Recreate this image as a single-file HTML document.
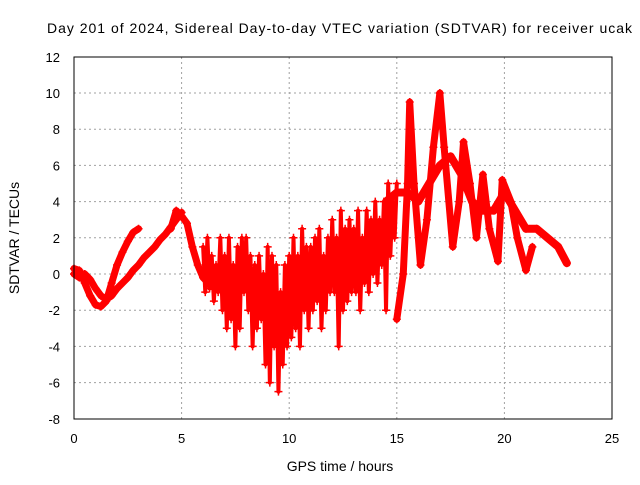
<!DOCTYPE html>
<html><head><meta charset="utf-8"><style>
body{margin:0;background:#fff}
svg text{font-family:"Liberation Sans",Arial,sans-serif;fill:#000}
</style></head><body>
<svg id="chart" width="640" height="480" viewBox="0 0 640 480" xmlns="http://www.w3.org/2000/svg">
<rect width="640" height="480" fill="#fff"/>
<text x="47" y="33" font-size="14" textLength="585">Day 201 of 2024, Sidereal Day-to-day VTEC variation (SDTVAR) for receiver ucak</text>
<g id="grid"></g>
<g id="ticks"></g>
<g id="marks"></g>
<rect x="74" y="57" width="538" height="362" fill="none" stroke="#000" stroke-width="1"/>
<text x="340" y="471" font-size="14" text-anchor="middle">GPS time / hours</text>
<text transform="translate(19,238) rotate(-90)" font-size="14" text-anchor="middle">SDTVAR / TECUs</text>
</svg>
<script>
const xTicks=[0,5,10,15,20,25];
const yTicks=[-8,-6,-4,-2,0,2,4,6,8,10,12];
const t1=[0,0.25,0.5,0.75,1,1.25,1.5,1.75,2,2.25,2.5,2.75,3];
const v1=[0.3,0.2,-0.5,-1.2,-1.7,-1.8,-1.5,-0.5,0.5,1.2,1.8,2.3,2.5];
const t2=[0,0.25,0.5,0.75,1,1.25,1.5,1.75,2,2.25,2.5,2.75,3,3.25,3.5,3.75,4,4.25,4.5,4.75,5];
const v2=[0,-0.2,0,-0.3,-0.8,-1.2,-1.4,-1.2,-0.8,-0.5,-0.2,0.2,0.5,0.9,1.2,1.5,1.9,2.2,2.6,3.0,3.4];
const t3=[4.5,4.75,5,5.25,5.5,5.75,6,6.25,6.5];
const v3=[2.5,3.5,3.2,2.8,1.5,0.5,-0.2,-0.5,-0.3];
const tN=[];for(let i=0;i<=90;i++)tN.push(6+i*0.1);
const vN=[1.5,-1,2,-0.8,1,-1.5,0.5,-1,2,-2,
1,-3,2,-2.5,0.5,-4,1.5,-3,2,-1,
2,-2,1,-4,0.5,-3,1,-2.5,0,-5,
1.5,-6,1,-4,0.5,-6.5,-1,-5,0.5,-4,
1,-3.5,2,-3,1,-4,2.5,-2,1.5,-3,
1.5,-2,2,-1.5,2.5,-3,1,-2,2,-1,
3,-1,2,-4,3.5,-2,2.5,-1.5,3,-1,
2.5,-1,3.5,-2,2,-0.5,3.5,-1,3,0,
4,-0.5,3,0.5,4,-2,5,1,4,2,5];
const tR1=[15.0,15.3,15.5,15.6,15.8,16.1,16.4,16.7,17.0,17.2,17.6,17.9,18.1,18.4,18.7,19.0,19.3,19.7,19.9,20.3,20.6,21.0,21.3];
const vR1=[-2.5,0,5,9.5,5,0.5,3,7,10,7,1.5,4,7.3,5,2,5.5,2.5,0.7,5.2,4,2,0.2,1.5];
const tR2=[14.5,15,15.5,16,16.5,17,17.5,18,18.5,19,19.5,20,20.5,21,21.5,22,22.5,22.9];
const vR2=[4,4.5,4.5,4,5,6,6.5,5.5,4,3.5,3.5,4.5,3.5,2.5,2.5,2,1.5,0.6];

const NS="http://www.w3.org/2000/svg";
const X=t=>74+t*538/25, Y=v=>274-v*18.1;
function mk(tag,at,parent){const e=document.createElementNS(NS,tag);for(const k in at)e.setAttribute(k,at[k]);parent.appendChild(e);return e;}
const grid=document.getElementById('grid'),ticks=document.getElementById('ticks'),marks=document.getElementById('marks');
xTicks.forEach(t=>{
  if(t>0&&t<25){const l=mk('line',{x1:X(t),x2:X(t),y1:57,y2:419,stroke:'#a0a0a0','stroke-dasharray':'2,3'},grid);
  }
  const tx=mk('text',{x:X(t),y:443,'font-size':13,'text-anchor':'middle'},ticks);tx.textContent=t;
  
});
yTicks.forEach(v=>{
  if(v>-8&&v<12){const l=mk('line',{x1:74,x2:612,y1:Y(v),y2:Y(v),stroke:'#a0a0a0','stroke-dasharray':'2,3'},grid);
  }
  const tx=mk('text',{x:60,y:Y(v)+5,'font-size':13,'text-anchor':'end'},ticks);tx.textContent=v;
  
});
function series(ts,vs,name,w){
  const pts=ts.map((t,i)=>X(t)+','+Y(vs[i])).join(' ');
  const pl=mk('polyline',{points:pts,fill:'none',stroke:'#ff0000','stroke-width':w,'stroke-linejoin':'round','stroke-linecap':'round'},marks);
  
  ts.forEach((t,i)=>{const x=X(t),y=Y(vs[i]);
    const p=mk('path',{d:`M${x-4},${y}H${x+4}M${x},${y-4}V${y+4}`,stroke:'#ff0000','stroke-width':1.5},marks);
    });
}
series(t1,v1,'trace-a',7);
series(t2,v2,'trace-b',7);
series(t3,v3,'trace-c',7);
series(tN,vN,'noisy-trace',4);
series(tR1,vR1,'trace-r1',7);
series(tR2,vR2,'trace-r2',8);
</script>
</body></html>
